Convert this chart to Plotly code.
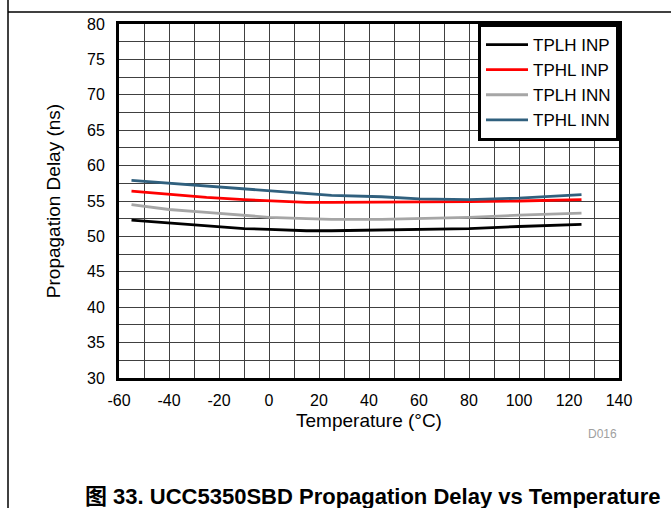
import plotly.graph_objects as go

FONT = "Liberation Sans, Arial, sans-serif"

# Temperature sweep (°C)
temps = [-55, -40, -25, -10, 0, 15, 25, 45, 60, 80, 100, 125]

# Propagation delay (ns)
tplh_inp = [52.3, 51.9, 51.5, 51.1, 51.0, 50.8, 50.8, 50.9, 50.9, 51.1, 51.4, 51.7]
tphl_inp = [56.4, 55.9, 55.5, 55.2, 55.0, 54.8, 54.8, 54.8, 54.8, 54.9, 55.0, 55.2]
tplh_inn = [54.5, 53.8, 53.4, 53.0, 52.7, 52.5, 52.4, 52.4, 52.5, 52.7, 53.0, 53.3]
tphl_inn = [57.9, 57.5, 57.1, 56.7, 56.4, 56.0, 55.8, 55.6, 55.3, 55.2, 55.4, 55.9]

x_ticks = [-60, -40, -20, 0, 20, 40, 60, 80, 100, 120, 140]
x_ticktext = ["-60", "-40", "-20", "0", "20", "40", "60", "80", "100", "120", "140"]

series = [
    ("TPLH INP", tplh_inp, "#000000"),
    ("TPHL INP", tphl_inp, "#FF0000"),
    ("TPLH INN", tplh_inn, "#A6A6A6"),
    ("TPHL INN", tphl_inn, "#30607E"),
]

fig = go.Figure()
for name, vals, color in series:
    fig.add_trace(go.Scatter(x=temps, y=vals, mode="lines", name=name,
                             line=dict(color=color, width=2.8)))

grid = dict(showgrid=True, gridcolor="#404040", gridwidth=1)

fig.update_layout(
    width=671, height=508,
    margin=dict(l=119, r=52, t=24, b=130),
    plot_bgcolor="white", paper_bgcolor="white",
    font=dict(family=FONT, size=16, color="black"),
    xaxis=dict(range=[-60, 140], tickvals=x_ticks, ticktext=x_ticktext,
               showline=True, mirror=True, linecolor="black", linewidth=3,
               zeroline=False, ticks="", ticklabelstandoff=6,
               minor=dict(dtick=10, tick0=-60, **grid),
               title=dict(text="Temperature (°C)", standoff=6), **grid),
    yaxis=dict(range=[30, 80], dtick=5, showline=True, mirror=True,
               linecolor="black", linewidth=3, zeroline=False, ticks="",
               ticklabelstandoff=8, minor=dict(dtick=2.5, **grid),
               title=dict(text="Propagation Delay (ns)", standoff=22), **grid),
    legend=dict(x=1, y=1, xanchor="right", yanchor="top", bgcolor="white",
                bordercolor="black", borderwidth=3, font=dict(size=17),
                tracegroupgap=0, itemwidth=42),
    showlegend=True,
)

# page frame, drawing id and caption
fig.add_shape(type="line", xref="paper", yref="paper", x0=-0.222, x1=-0.222,
              y0=-0.37, y1=1.07, line=dict(color="black", width=1.5))
fig.add_shape(type="line", xref="paper", yref="paper", x0=-0.222, x1=1.11,
              y0=1.034, y1=1.034, line=dict(color="black", width=1.5))
fig.add_annotation(text="D016", xref="paper", yref="paper", x=1.0, y=-0.158,
                   yanchor="middle", showarrow=False,
                   font=dict(size=12, color="#A0A0A0"))
fig.add_annotation(text="<b>图 33. UCC5350SBD Propagation Delay vs Temperature</b>",
                   xref="paper", yref="paper", x=0.506, y=-0.336, yanchor="middle",
                   showarrow=False,
                   font=dict(family=FONT + ", Noto Sans CJK SC", size=22, color="black"))

fig.write_html("out.html", config={"displayModeBar": False},
               post_script="document.body.style.margin='0';")
